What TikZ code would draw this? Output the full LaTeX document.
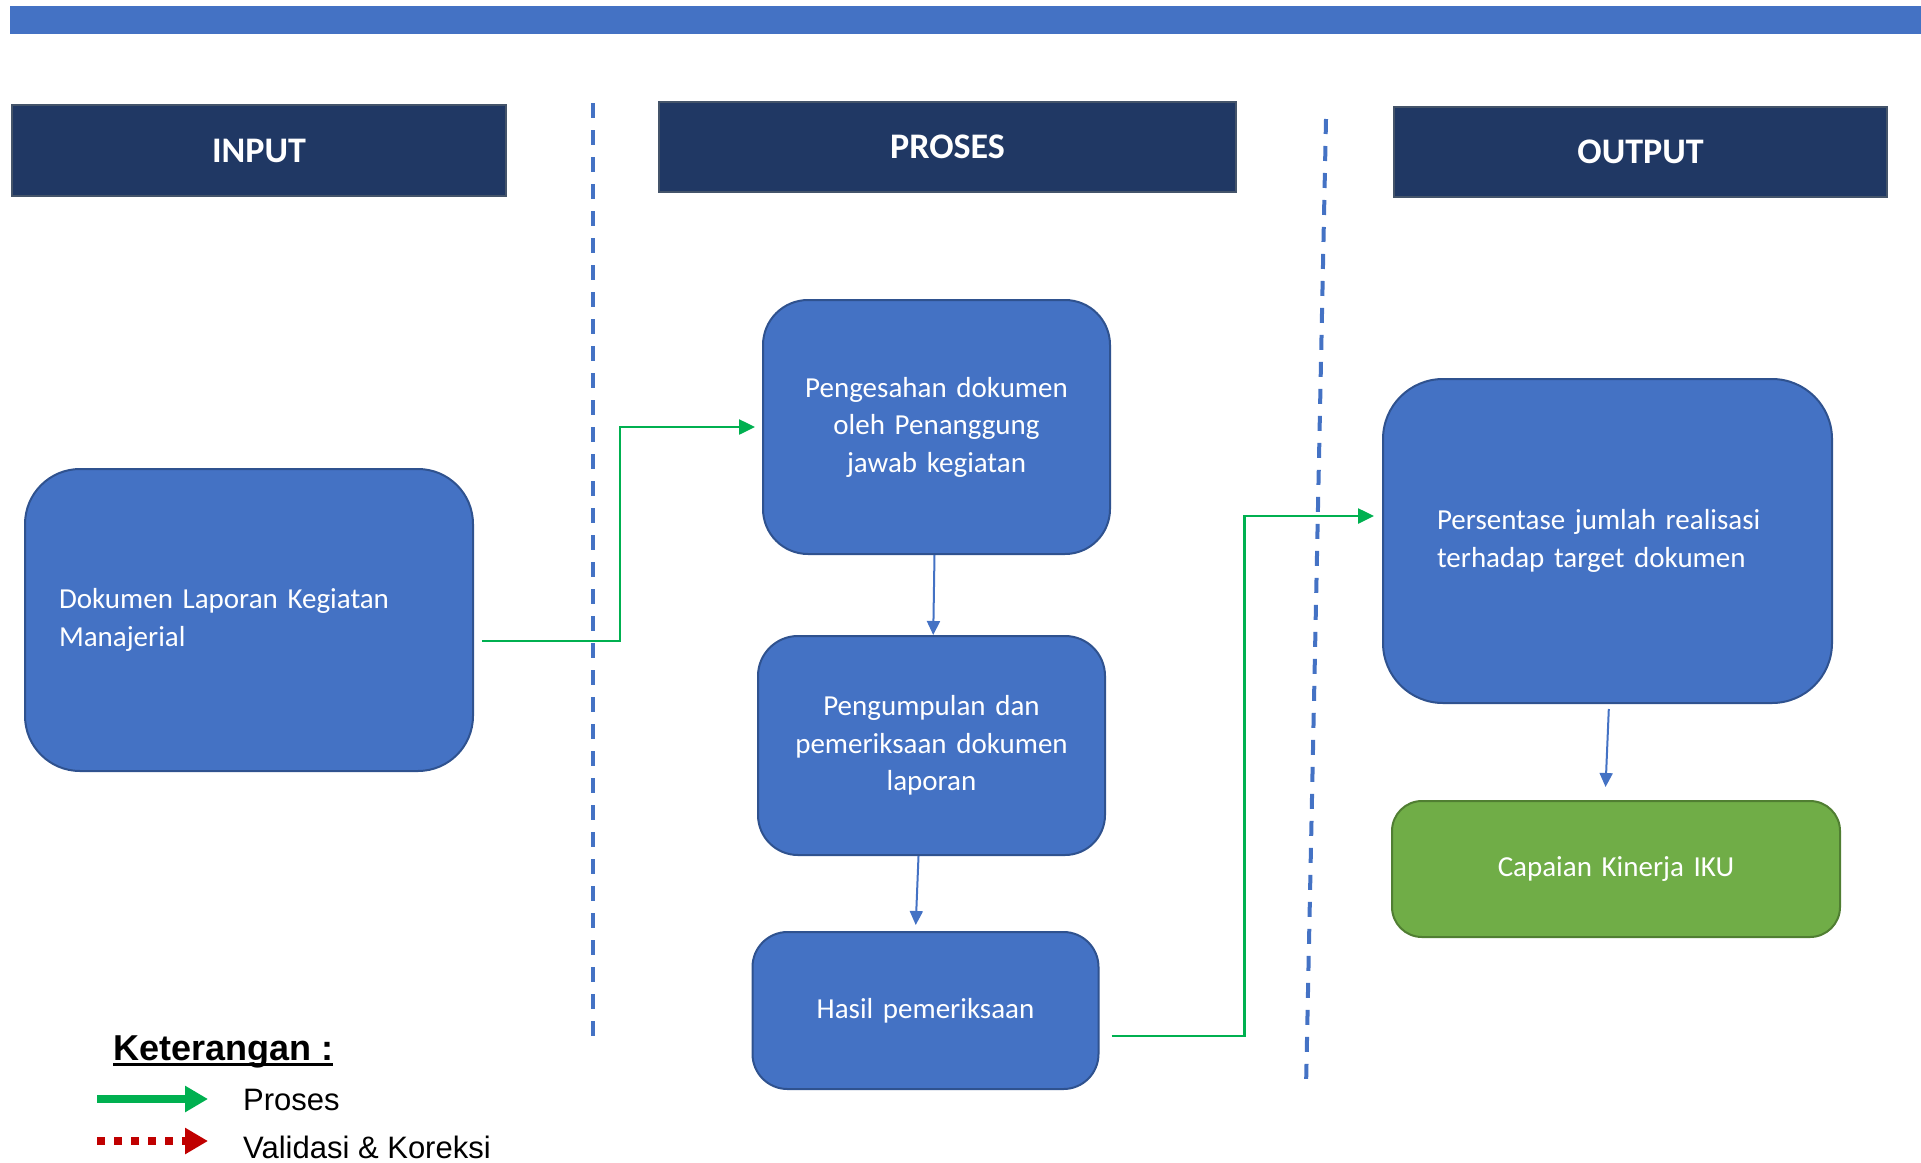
\documentclass[tikz,border=0pt]{standalone}
\usepackage{fontspec}
\setmainfont{Carlito}
\newfontfamily\legfont{Liberation Sans}
\usepackage{tikz}
\usetikzlibrary{arrows.meta,positioning}
\definecolor{boxfill}{HTML}{4472C4}
\definecolor{boxline}{HTML}{2F528F}
\definecolor{hdrfill}{HTML}{203864}
\definecolor{hdrline}{HTML}{44546A}
\definecolor{capfill}{HTML}{70AD47}
\definecolor{capline}{HTML}{507E32}
\definecolor{flowgreen}{HTML}{00B050}
\definecolor{corred}{HTML}{C00000}
\newcommand\hdfont{\fontsize{36}{40}\selectfont\bfseries}
\newcommand\bxfont{\fontsize{29}{37.5}\selectfont}
\tikzset{
        header/.style = {draw=hdrline, fill=hdrfill, line width=2pt,
            text=white, font=\hdfont, inner sep=0pt},
        block/.style = {draw=boxline, fill=boxfill, line width=2pt,
            text=white, font=\bxfont, inner sep=0pt, align=center},
        arrow/.style = {draw=boxfill, line width=2pt,
            -{Triangle[length=14pt,width=13pt]}},
        garrow/.style = {draw=flowgreen, line width=2.5pt,
            -{Triangle[length=16pt,width=15pt]}},
        divider/.style = {draw=boxfill, line width=4pt,
            dash pattern=on 15pt off 12pt},
        legtext/.style = {font=\legfont\fontsize{31}{36}\selectfont,
            anchor=base west, inner sep=0pt},
    }

\begin{document}
\begin{tikzpicture}[x=1pt,y=-1pt]
    \useasboundingbox (0,0) rectangle (1921,1162);
    \fill[boxfill] (10,6) rectangle (1921,34);

    \node[header, minimum width=494pt, minimum height=91pt] (hIn) at (259,150.5) {INPUT};
    \node[header, minimum width=577pt, minimum height=90pt] (hPr) at (947.5,147) {PROSES};
    \node[header, minimum width=493pt, minimum height=90pt] (hOut) at (1640.5,152) {OUTPUT};

    \node[block, rounded corners=55pt, text width=380pt, inner xsep=34pt,
        minimum height=302pt, align=left] (in1) at (249,620)
        {Dokumen Laporan Kegiatan\\Manajerial};

    \node[block, rounded corners=45pt, text width=347pt, minimum height=254pt]
        (pr1) at (936.5,427) {Pengesahan dokumen\\oleh Penanggung\\jawab kegiatan};
    \node[block, rounded corners=40pt, text width=347pt, minimum height=219pt,
        below=80pt of pr1, xshift=-5pt] (pr2) {Pengumpulan dan\\pemeriksaan dokumen\\laporan};
    \node[block, rounded corners=35pt, text width=346pt, minimum height=157pt,
        below=75pt of pr2, xshift=-6pt] (pr3) {Hasil pemeriksaan};

    \node[block, rounded corners=60pt, text width=341pt, inner xsep=54pt,
        minimum height=324pt, align=left] (out1) at (1607.5,541)
        {Persentase jumlah realisasi\\terhadap target dokumen};
    \node[block, draw=capline, fill=capfill, rounded corners=30pt, text width=448pt,
        minimum height=136pt] (out2) at (1616,869) {Capaian Kinerja IKU};

    \draw[garrow] ([xshift=8pt,yshift=-21pt]in1.east) -- ++(138,0)
        |- ([xshift=-7pt]pr1.west);
    \draw[arrow] (pr1) -- (pr2);
    \draw[arrow, shorten >=6pt] ([xshift=-13pt]pr2.south) -- ([xshift=-10pt]pr3.north);
    \draw[garrow] ([xshift=12pt,yshift=-25.5pt]pr3.east) -- ++(133,0)
        |- ([xshift=-8pt,yshift=25pt]out1.west);
    \draw[arrow, shorten <=5pt, shorten >=13pt] ([xshift=1.5pt]out1.south) -- ([xshift=-11pt]out2.north);

    \coordinate (d1a) at (593,103);
    \coordinate (d1b) at (593,1036);
    \coordinate (d2a) at (1326,119);
    \coordinate (d2b) at (1306,1088);
    \draw[divider] (d1a) -- (d1b);
    \draw[divider] (d2a) -- (d2b);

    \node[legtext, font=\legfont\fontsize{36}{40}\selectfont\bfseries]
        (ket) at (113,1060) {Keterangan :};
    \draw[line width=3pt] ([yshift=-4pt]ket.base west) -- ([yshift=-4pt]ket.base east);
    \coordinate (g1) at (97,1099);
    \coordinate (g2) at (208,1099);
    \coordinate (r1) at (97,1141);
    \coordinate (r2) at (208,1141);
    \draw[draw=flowgreen, line width=8pt, -{Triangle[length=23pt,width=25pt]}] (g1) -- (g2);
    \draw[draw=corred, line width=8pt, dash pattern=on 8pt off 9pt,
        -{Triangle[length=23pt,width=25pt]}] (r1) -- (r2);
    \node[legtext] (lg1) at (243,1110) {Proses};
    \node[legtext] (lg2) at (243,1158) {Validasi \& Koreksi};
\end{tikzpicture}
\end{document}
